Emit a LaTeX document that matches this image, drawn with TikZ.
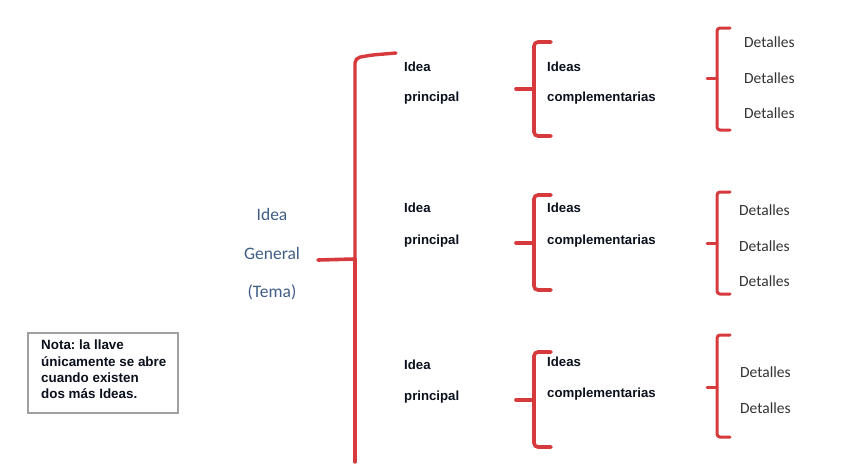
\documentclass[tikz,border=0pt]{standalone}
\usepackage{fontspec}
\setmainfont{Liberation Sans}
\newfontfamily\calib{Carlito}
\definecolor{bracered}{HTML}{D63A3C}
\definecolor{temablue}{HTML}{3F5E86}
\definecolor{txtdark}{HTML}{0A101C}
\definecolor{detgray}{HTML}{333333}
\definecolor{notegray}{HTML}{A0A0A0}
\tikzset{
  brace/.style={draw=bracered, line width=3.6pt, rounded corners=4pt, line cap=round},
  bigbrace/.style={draw=bracered, line width=3.4pt, rounded corners=5pt, line cap=round},
  idea/.style={font=\fontsize{13.2}{15}\selectfont\bfseries, text=txtdark, anchor=west, inner sep=0pt},
  detail/.style={font=\calib\fontsize{15.5}{17}\selectfont, text=detgray, anchor=west, inner sep=0pt},
  general/.style={font=\calib\fontsize{17.5}{19}\selectfont, text=temablue, inner sep=0pt},
  notebox/.style={draw=notegray, line width=2.6pt, minimum width=150pt, minimum height=80pt, inner sep=0pt}
}
\frenchspacing
\begin{document}
\begin{tikzpicture}[x=1pt,y=-1pt]
\useasboundingbox[fill=white] (0,0) rectangle (852,472);

% Idea General
\node[general] (g1) at (272,214) {Idea};
\node[general] (g2) at (272,253) {General};
\node[general] (g3) at (272,292) {(Tema)};

% big brace
\coordinate (bt) at (396,53);
\coordinate (bm) at (355,259);
\coordinate (btip) at (318,260);
\coordinate (bb) at (355,462);
\draw[bigbrace] (bt) -- (372,55) -- (355,58) -- (bm);
\draw[bigbrace] (bm) -- (bb);
\draw[draw=bracered, line width=3.6pt, line cap=round] (btip) -- (bm);

% level 2 texts
\node[idea] (i1a) at (404,67) {Idea};
\node[idea] (i1b) at (404,98) {principal};
\node[idea] (i2a) at (404,208) {Idea};
\node[idea] (i2b) at (404,241) {principal};
\node[idea] (i3a) at (404,365) {Idea};
\node[idea] (i3b) at (404,397) {principal};

\node[idea] (c1a) at (547,67) {Ideas};
\node[idea] (c1b) at (547,98) {complementarias};
\node[idea] (c2a) at (547,208) {Ideas};
\node[idea] (c2b) at (547,241) {complementarias};
\node[idea] (c3a) at (547,362) {Ideas};
\node[idea] (c3b) at (547,394) {complementarias};

% level 2 braces
\foreach \t/\m/\b/\n in {42/89/136/1, 195/243/290/2, 352/400/447/3}{
  \coordinate (s\n t) at (551,\t);
  \coordinate (s\n m) at (534,\m);
  \coordinate (s\n tip) at (516,\m);
  \coordinate (s\n b) at (551,\b);
  \draw[brace] (s\n t) -- (534,\t) -- (s\n m) -- (534,\b) -- (s\n b);
  \draw[brace] (s\n tip) -- (s\n m);
}

% level 3 braces
\foreach \t/\m/\b/\n in {28/78/130/1, 192/243/294/2, 335/387/437/3}{
  \coordinate (d\n t) at (730,\t);
  \coordinate (d\n m) at (717,\m);
  \coordinate (d\n tip) at (707,\m);
  \coordinate (d\n b) at (730,\b);
  \draw[brace, line width=3pt, rounded corners=3pt] (d\n t) -- (717,\t) -- (d\n m) -- (717,\b) -- (d\n b);
  \draw[brace, line width=3pt] (d\n tip) -- (d\n m);
}

% details
\begin{scope}
\clip (700,20) rectangle (794,130);
\node[detail] (e1) at (744,42) {Detalles};
\node[detail] (e2) at (744,78) {Detalles};
\node[detail] (e3) at (744,113) {Detalles};
\end{scope}
\node[detail] (e4) at (739,210) {Detalles};
\node[detail] (e5) at (739,246) {Detalles};
\node[detail] (e6) at (739,281) {Detalles};
\node[detail] (e7) at (740,372) {Detalles};
\node[detail] (e8) at (740,408) {Detalles};

% note
\node[notebox] (nb) at (103,373) {};
\node[font=\fontsize{13.4}{16.2}\selectfont\bfseries, text=txtdark, align=left, anchor=north west, inner sep=0pt] (nt) at (41,340)
  {Nota: la llave\\únicamente se abre\\cuando existen\\dos más Ideas.};
\end{tikzpicture}
\end{document}
